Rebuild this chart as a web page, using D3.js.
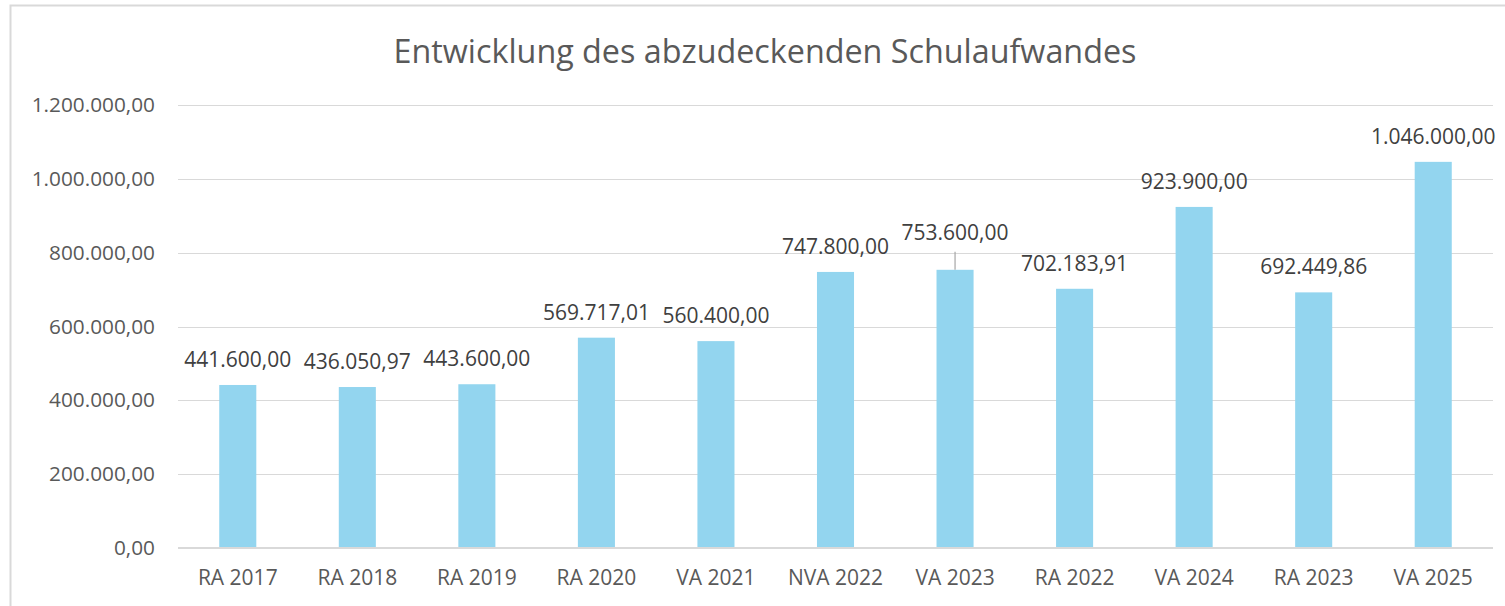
<!DOCTYPE html>
<html>
<head>
<meta charset="utf-8">
<script src="https://cdn.jsdelivr.net/npm/d3@7"></script>
<style>
  html, body { margin: 0; padding: 0; background: #fff; }
  svg { display: block; font-family: "Open Sans", "Noto Sans", sans-serif; }
</style>
</head>
<body>
<svg id="chart" width="1505" height="606"></svg>
<script>
const titleText = "Entwicklung des abzudeckenden Schulaufwandes";
const categories = ["RA 2017", "RA 2018", "RA 2019", "RA 2020", "VA 2021", "NVA 2022", "VA 2023", "RA 2022", "VA 2024", "RA 2023", "VA 2025"];
const values = [441600.00, 436050.97, 443600.00, 569717.01, 560400.00, 747800.00, 753600.00, 702183.91, 923900.00, 692449.86, 1046000.00];
const yTicks = [0, 200000, 400000, 600000, 800000, 1000000, 1200000];
const leaderCategories = ["VA 2023"];

const de = d3.formatLocale({decimal: ",", thousands: ".", grouping: [3], currency: ["", " €"]});
const fmt = de.format(",.2f");

const svg = d3.select("#chart");
const plot = {left: 178, right: 1493, top: 105, bottom: 548};

svg.append("rect")
  .attr("x", 10.5).attr("y", 5.5)
  .attr("width", 1530).attr("height", 640)
  .attr("fill", "#fff")
  .attr("stroke", "#d9d9d9").attr("stroke-width", 2);

const x = d3.scaleBand()
  .domain(categories)
  .range([plot.left, plot.right])
  .paddingInner(0.69)
  .paddingOuter(0.345);

const y = d3.scaleLinear()
  .domain([0, 1200000])
  .range([plot.bottom, plot.top]);

svg.append("text")
  .attr("x", 765).attr("y", 63)
  .attr("text-anchor", "middle")
  .attr("font-size", 32.3)
  .attr("fill", "#595959")
  .text(titleText);

const yAxis = d3.axisLeft(y).tickValues(yTicks).tickSize(0).tickPadding(23).tickFormat(fmt);
const gy = svg.append("g").attr("transform", `translate(${plot.left},0)`).call(yAxis);
gy.select(".domain").remove();
gy.selectAll("text").attr("font-size", 20.8).attr("fill", "#595959").attr("font-family", "Open Sans");

svg.append("g").selectAll("line.grid")
  .data(yTicks.filter(d => d !== 0))
  .join("line")
  .attr("x1", plot.left).attr("x2", plot.right)
  .attr("y1", d => Math.round(y(d)) + 0.5).attr("y2", d => Math.round(y(d)) + 0.5)
  .attr("stroke", "#d9d9d9").attr("stroke-width", 1.2);

svg.append("g").selectAll("rect.bar")
  .data(categories)
  .join("rect")
  .attr("x", d => x(d))
  .attr("width", x.bandwidth())
  .attr("y", (d, i) => y(values[i]))
  .attr("height", (d, i) => y(0) - y(values[i]))
  .attr("fill", "#93d5ef");

const xAxis = d3.axisBottom(x).tickSize(0).tickPadding(22);
const gx = svg.append("g").attr("transform", `translate(0,${plot.bottom})`).call(xAxis);
gx.select(".domain").attr("stroke", "#d9d9d9").attr("stroke-width", 1.8)
  .attr("d", `M${plot.left},0H${plot.right}`);
gx.selectAll("text").attr("font-size", 21).attr("fill", "#595959").attr("font-family", "Open Sans");

const labels = svg.append("g");
categories.forEach((c, i) => {
  const cx = x(c) + x.bandwidth() / 2;
  const top = y(values[i]);
  const lifted = leaderCategories.includes(c);
  const off = lifted ? 30 : 18;
  labels.append("text")
    .attr("x", cx).attr("y", top - off)
    .attr("text-anchor", "middle")
    .attr("font-size", 21)
    .attr("fill", "#404040")
    .text(fmt(values[i]));
  if (lifted) {
    labels.append("line")
      .attr("x1", cx).attr("x2", cx)
      .attr("y1", top - off + 12).attr("y2", top)
      .attr("stroke", "#a6a6a6").attr("stroke-width", 1.2);
  }
});
</script>
</body>
</html>
